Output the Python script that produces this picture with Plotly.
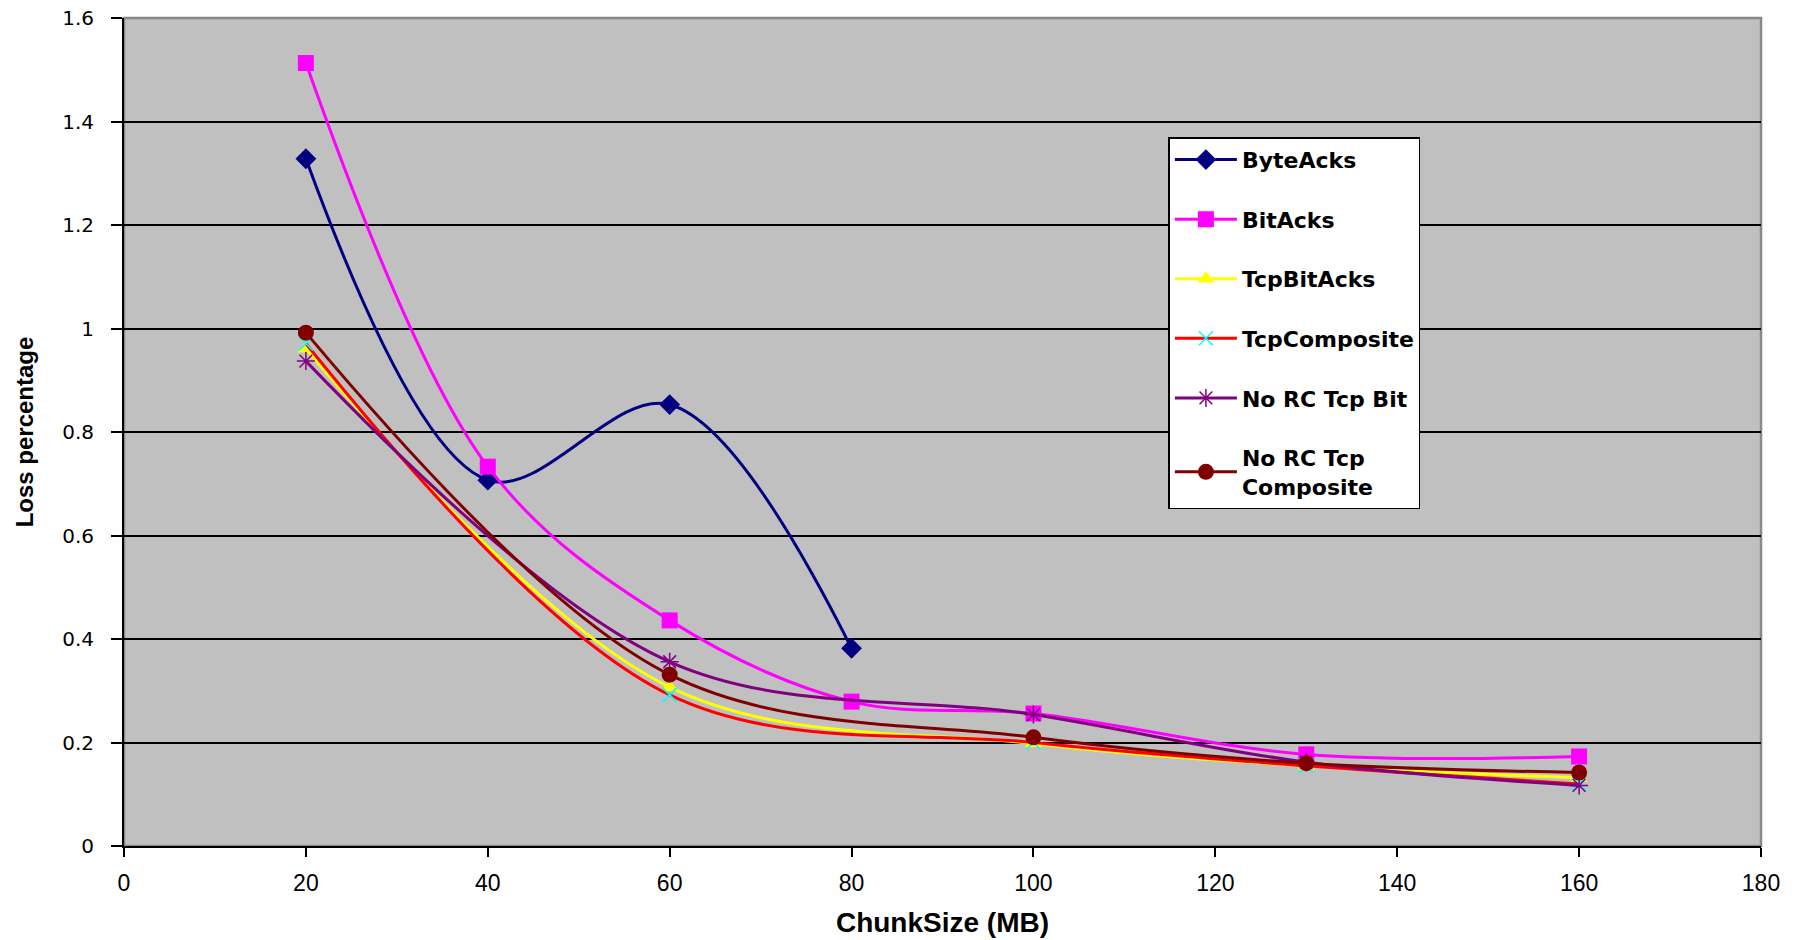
import plotly.graph_objects as go

# ---- data ----
x_byte = [20, 40, 60, 80]
byte_acks = [1.328, 0.707, 0.853, 0.382]

x_bit = [20, 40, 60, 80, 100, 130, 160]
bit_acks = [1.513, 0.733, 0.436, 0.279, 0.256, 0.177, 0.173]

x_tcp = [20, 60, 100, 130, 160]
tcp_bit_acks = [0.961, 0.307, 0.198, 0.155, 0.132]
tcp_composite = [0.971, 0.292, 0.200, 0.155, 0.120]
norc_tcp_bit = [0.937, 0.356, 0.254, 0.162, 0.117]
norc_tcp_composite = [0.992, 0.331, 0.210, 0.160, 0.142]

x_ticks = [0, 20, 40, 60, 80, 100, 120, 140, 160, 180]
y_ticks = [0, 0.2, 0.4, 0.6, 0.8, 1, 1.2, 1.4, 1.6]
y_tick_text = ["0", "0.2", "0.4", "0.6", "0.8", "1", "1.2", "1.4", "1.6"]

series = [
    ("ByteAcks", x_byte, byte_acks, "#000080", dict(symbol="diamond", size=16, color="#000080")),
    ("BitAcks", x_bit, bit_acks, "#FF00FF", dict(symbol="square", size=16, color="#FF00FF")),
    ("TcpBitAcks", x_tcp, tcp_bit_acks, "#FFFF00", dict(symbol="triangle-up", size=15, color="#FFFF00")),
    ("TcpComposite", x_tcp, tcp_composite, "#FF0000",
     dict(symbol="x-thin-open", size=14, color="#00FFFF", line=dict(width=1.5, color="#00FFFF"))),
    ("No RC Tcp Bit", x_tcp, norc_tcp_bit, "#800080",
     dict(symbol="asterisk-open", size=15, color="#800080", line=dict(width=1.5, color="#800080"))),
    ("No RC Tcp<br>Composite", x_tcp, norc_tcp_composite, "#800000",
     dict(symbol="circle", size=16, color="#800000")),
]

fig = go.Figure()
for i, (name, xs, ys, lc, mk) in enumerate(series):
    fig.add_trace(go.Scatter(
        x=xs, y=ys, name=name, mode="lines+markers",
        line=dict(color=lc, width=3, shape="spline", smoothing=1.0),
        marker=mk, legendgroup=f"g{i}",
    ))

fig.update_layout(
    width=1803, height=940,
    margin=dict(l=124, r=42, t=18, b=94),
    paper_bgcolor="white",
    plot_bgcolor="#C0C0C0",
    font=dict(family="Liberation Sans, Arial", size=19, color="black"),
    showlegend=True,
    legend=dict(
        x=0.638, y=0.856, xanchor="left", yanchor="top",
        bgcolor="white", bordercolor="black", borderwidth=1.5,
        font=dict(family="DejaVu Sans", size=22, color="black", weight="bold"),
        tracegroupgap=28, traceorder="grouped", itemwidth=62,
    ),
    xaxis=dict(
        range=[0, 180], tickvals=x_ticks, ticks="outside", ticklen=9, tickcolor="black",
        tickwidth=1.5, ticklabelstandoff=6, automargin=False,
        showline=True, linecolor="black", linewidth=2, showgrid=False, zeroline=False,
        tickfont=dict(size=23, family="Liberation Sans, Arial"),
        title=dict(text="<b>ChunkSize (MB)</b>",
                   font=dict(size=28, family="Liberation Sans, Arial"),
                   standoff=18),
    ),
    yaxis=dict(
        range=[0, 1.6], tickvals=y_ticks, ticktext=y_tick_text, ticks="outside", ticklen=11,
        tickwidth=1.5, ticklabelstandoff=13, automargin=False,
        tickcolor="black", showline=True, linecolor="black", linewidth=2,
        showgrid=True, gridcolor="black", gridwidth=1.5, zeroline=False,
        tickfont=dict(size=20, family="DejaVu Sans"),
        title=dict(text="<b>Loss percentage</b>", font=dict(size=24), standoff=22),
    ),
    shapes=[dict(type="rect", xref="paper", yref="paper", x0=0, x1=1, y0=0, y1=1,
                 line=dict(color="#888888", width=2.5), layer="below")],
)

fig.write_html("out.html")
